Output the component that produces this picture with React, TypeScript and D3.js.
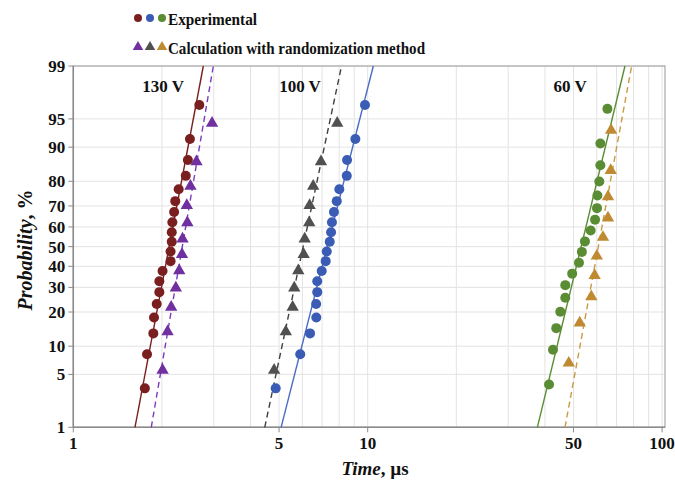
import React from "react";
import * as d3 from "d3";

const W = 675;
const H = 480;

// Probability levels (%) (y positions of points)
const prob130Exp = [3.4, 8.3, 13.2, 18.1, 23.0, 27.9, 32.8, 37.7, 42.6, 47.5, 52.5, 57.4, 62.3, 67.2, 72.1, 77.0, 81.9, 86.8, 91.7, 96.6];
const time130Exp = [1.75, 1.78, 1.87, 1.88, 1.92, 1.96, 1.96, 2.01, 2.14, 2.14, 2.16, 2.16, 2.17, 2.20, 2.22, 2.28, 2.41, 2.45, 2.49, 2.68];

const prob130Calc = [5.6, 13.7, 21.8, 29.8, 37.9, 46.0, 54.0, 62.1, 70.2, 78.2, 86.3, 94.4];
const time130Calc = [2.01, 2.09, 2.15, 2.23, 2.29, 2.34, 2.35, 2.44, 2.43, 2.50, 2.62, 2.96];

const prob100Exp = [3.4, 8.3, 13.2, 18.1, 23.0, 27.9, 32.8, 37.7, 42.6, 47.5, 52.5, 57.4, 62.3, 67.2, 72.1, 77.0, 81.9, 86.8, 91.7, 96.6];
const time100Exp = [4.87, 5.9, 6.37, 6.69, 6.68, 6.74, 6.74, 6.98, 7.2, 7.26, 7.43, 7.51, 7.56, 7.68, 7.85, 8.01, 8.49, 8.51, 9.08, 9.79];

const prob100Calc = [5.6, 13.7, 21.8, 29.8, 37.9, 46.0, 54.0, 62.1, 70.2, 78.2, 86.3, 94.4];
const time100Calc = [4.81, 5.27, 5.56, 5.63, 5.81, 6.06, 6.11, 6.33, 6.35, 6.53, 6.94, 7.88];

const prob60Exp = [3.8, 9.2, 14.7, 20.1, 25.5, 31.0, 36.4, 41.8, 47.3, 52.7, 58.2, 63.6, 69.0, 74.5, 79.9, 85.3, 90.8, 96.2];
const time60Exp = [41.3, 42.6, 43.7, 45.1, 46.9, 46.9, 49.5, 52.2, 53.4, 54.7, 57.2, 59.2, 60.1, 60.3, 61.2, 61.7, 61.7, 65.2];

const prob60Calc = [6.7, 16.3, 26.0, 35.6, 45.2, 54.8, 64.4, 74.0, 83.7, 93.3];
const time60Calc = [48.2, 52.5, 57.5, 59.0, 60.0, 63.0, 65.5, 65.5, 66.9, 67.1];

// Fit lines: time at 1% and at 99%
const fit130Exp = [1.62, 2.765];
const fit130Calc = [1.84, 2.99];
const fit100Exp = [5.08, 10.45];
const fit100Calc = [4.47, 8.15];
const fit60Exp = [37.7, 74.8];
const fit60Calc = [46.8, 78.8];
const fitProbs = [1, 99];

const yTicks = [1, 5, 10, 20, 30, 40, 50, 60, 70, 80, 90, 95, 99];
const xTickLabels = [1, 5, 10, 50, 100];
const xGrid = [1, 2, 3, 4, 5, 6, 7, 8, 9, 10, 20, 30, 40, 50, 60, 70, 80, 90, 100];

const voltageLabels = ["130 V", "100 V", "60 V"];
const voltageLabelTimes = [2.02, 5.89, 48.7];

const legendLabels = ["Experimental", "Calculation with randomization method"];

// inverse normal CDF (Acklam)
function probit(p: number): number {
  const a = [-3.969683028665376e1, 2.209460984245205e2, -2.759285104469687e2, 1.38357751867269e2, -3.066479806614716e1, 2.506628277459239];
  const b = [-5.447609879822406e1, 1.615858368580409e2, -1.556989798598866e2, 6.680131188771972e1, -1.328068155288572e1];
  const c = [-7.784894002430293e-3, -3.223964580411365e-1, -2.400758277161838, -2.549732539343734, 4.374664141464968, 2.938163982698783];
  const d = [7.784695709041462e-3, 3.224671290700398e-1, 2.445134137142996, 3.754408661907416];
  const pl = 0.02425;
  if (p < pl) {
    const q = Math.sqrt(-2 * Math.log(p));
    return (((((c[0] * q + c[1]) * q + c[2]) * q + c[3]) * q + c[4]) * q + c[5]) / ((((d[0] * q + d[1]) * q + d[2]) * q + d[3]) * q + 1);
  }
  if (p > 1 - pl) {
    const q = Math.sqrt(-2 * Math.log(1 - p));
    return -(((((c[0] * q + c[1]) * q + c[2]) * q + c[3]) * q + c[4]) * q + c[5]) / ((((d[0] * q + d[1]) * q + d[2]) * q + d[3]) * q + 1);
  }
  const q = p - 0.5;
  const r = q * q;
  return ((((((a[0] * r + a[1]) * r + a[2]) * r + a[3]) * r + a[4]) * r + a[5]) * q) / (((((b[0] * r + b[1]) * r + b[2]) * r + b[3]) * r + b[4]) * r + 1);
}

const left = 73.3;
const right = 665;
const top = 66;
const bottom = 427.3;

const x = d3.scaleLog().domain([1, 102.3]).range([left, right]);
const zScale = d3.scaleLinear().domain([probit(0.01), probit(0.99)]).range([bottom, top]);
const y = (pct: number) => zScale(probit(pct / 100));

const FONT = "'Liberation Serif', 'Times New Roman', serif";

type Series = {
  times: number[];
  probs: number[];
  fit: number[];
  color: string;
  lineColor: string;
  shape: "circle" | "triangle";
  dashed: boolean;
};

const series: Series[] = [
  { times: time130Exp, probs: prob130Exp, fit: fit130Exp, color: "#7a1f1f", lineColor: "#7a1f1f", shape: "circle", dashed: false },
  { times: time130Calc, probs: prob130Calc, fit: fit130Calc, color: "#7030a0", lineColor: "#7a3cc0", shape: "triangle", dashed: true },
  { times: time100Exp, probs: prob100Exp, fit: fit100Exp, color: "#3a5cb5", lineColor: "#4a6cc4", shape: "circle", dashed: false },
  { times: time100Calc, probs: prob100Calc, fit: fit100Calc, color: "#505050", lineColor: "#404040", shape: "triangle", dashed: true },
  { times: time60Exp, probs: prob60Exp, fit: fit60Exp, color: "#5a8c34", lineColor: "#5a8c34", shape: "circle", dashed: false },
  { times: time60Calc, probs: prob60Calc, fit: fit60Calc, color: "#c08a32", lineColor: "#c99a45", shape: "triangle", dashed: true },
];

const tri = d3.symbol().type(d3.symbolTriangle).size(66)();
const triLegend = d3.symbol().type(d3.symbolTriangle).size(48)();

export default function App() {
  const line = d3
    .line<[number, number]>()
    .x((d) => x(d[0]))
    .y((d) => y(d[1]));

  return (
    <svg width={W} height={H} style={{ position: "absolute", left: 0, top: 0, background: "#fff" }} fontFamily={FONT}>
      <rect x={0} y={0} width={W} height={H} fill="#fff" />
      {/* grid */}
      {xGrid.map((v) => (
        <line key={"gx" + v} x1={x(v)} x2={x(v)} y1={top} y2={bottom} stroke="#e3e3e3" strokeWidth={1} />
      ))}
      {yTicks.map((v) => (
        <line key={"gy" + v} x1={left} x2={right} y1={y(v)} y2={y(v)} stroke="#e3e3e3" strokeWidth={1} />
      ))}
      <rect x={left} y={top} width={right - left} height={bottom - top} fill="none" stroke="#a8a8a8" strokeWidth={1.2} />
      {/* axes */}
      <line x1={left} x2={left} y1={top} y2={bottom} stroke="#8a8a8a" strokeWidth={1.5} />
      <line x1={left} x2={right} y1={bottom} y2={bottom} stroke="#8a8a8a" strokeWidth={1.5} />
      {yTicks.map((v) => (
        <g key={"yt" + v}>
          <line x1={left - 5} x2={left} y1={y(v)} y2={y(v)} stroke="#8a8a8a" strokeWidth={1} />
          <text x={left - 8} y={y(v)} dy="0.35em" textAnchor="end" fontSize={17} fontWeight="bold" fill="#111">
            {v}
          </text>
        </g>
      ))}
      {xTickLabels.map((v) => (
        <g key={"xt" + v}>
          <line x1={x(v)} x2={x(v)} y1={bottom} y2={bottom + 5} stroke="#8a8a8a" strokeWidth={1} />
          <text x={x(v)} y={bottom + 22} textAnchor="middle" fontSize={17} fontWeight="bold" fill="#111">
            {v}
          </text>
        </g>
      ))}
      {/* axis titles */}
      <text x={375} y={475} textAnchor="middle" fontSize={19} fontWeight="bold" fill="#111">
        <tspan fontStyle="italic">Time</tspan>, µs
      </text>
      <text transform={`translate(32, 250) rotate(-90)`} textAnchor="middle" fontSize={20} fontWeight="bold" fill="#111">
        <tspan fontStyle="italic">Probability</tspan>, %
      </text>
      {/* fit lines */}
      {series.map((s, i) => (
        <path
          key={"fit" + i}
          d={line([
            [s.fit[0], fitProbs[0]],
            [s.fit[1], fitProbs[1]],
          ]) || ""}
          fill="none"
          stroke={s.lineColor}
          strokeWidth={1.4}
          strokeDasharray={s.dashed ? "6,4" : undefined}
        />
      ))}
      {/* points */}
      {series.map((s, i) =>
        s.times.map((t, j) =>
          s.shape === "circle" ? (
            <circle key={`p${i}-${j}`} cx={x(t)} cy={y(s.probs[j])} r={5} fill={s.color} />
          ) : (
            <path key={`p${i}-${j}`} d={tri || ""} transform={`translate(${x(t)},${y(s.probs[j])})`} fill={s.color} />
          )
        )
      )}
      {/* voltage labels */}
      {voltageLabels.map((l, i) => (
        <text key={l} x={x(voltageLabelTimes[i])} y={92} textAnchor="middle" fontSize={17} fontWeight="bold" fill="#111">
          {l}
        </text>
      ))}
      {/* legend */}
      {[series[0], series[2], series[4]].map((s, i) => (
        <circle key={"lc" + i} cx={138 + i * 12} cy={18} r={4} fill={s.color} />
      ))}
      <text x={168} y={24.5} fontSize={17} fontWeight="bold" fill="#111" textLength={89} lengthAdjust="spacingAndGlyphs">
        {legendLabels[0]}
      </text>
      {[series[1], series[3], series[5]].map((s, i) => (
        <path key={"lt" + i} d={triLegend || ""} transform={`translate(${138 + i * 12},${47})`} fill={s.color} />
      ))}
      <text x={168} y={53.5} fontSize={17} fontWeight="bold" fill="#111" textLength={257} lengthAdjust="spacingAndGlyphs">
        {legendLabels[1]}
      </text>
    </svg>
  );
}
